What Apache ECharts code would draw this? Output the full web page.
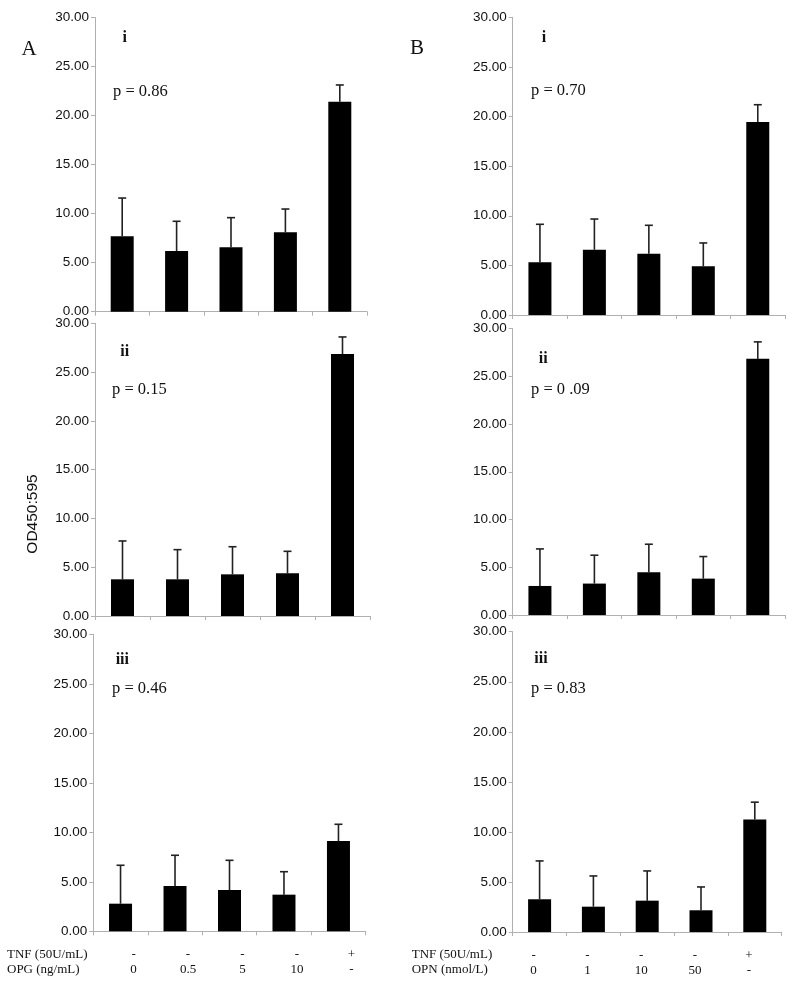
<!DOCTYPE html>
<html>
<head>
<meta charset="utf-8">
<script src="https://cdn.jsdelivr.net/npm/echarts@6/dist/echarts.min.js"></script>
<style>
html,body{margin:0;padding:0;background:#fff;}
#main{width:800px;height:986px;}
</style>
</head>
<body>
<div id="main"></div>
<script>
// ---- data ----
var categories = ['c1', 'c2', 'c3', 'c4', 'c5'];
var yTicks = [0, 5, 10, 15, 20, 25, 30];

var tnfLabels = ['-', '-', '-', '-', '+'];
var opgLabels = ['0', '0.5', '5', '10', '-'];
var opnLabels = ['0', '1', '10', '50', '-'];

var A_i_mean   = [7.69, 6.19, 6.57, 8.10, 21.41];
var A_i_sd     = [3.90, 3.03, 3.02, 2.37, 1.71];
var A_ii_mean  = [3.76, 3.76, 4.27, 4.37, 26.85];
var A_ii_sd    = [3.93, 3.04, 2.83, 2.26, 1.75];
var A_iii_mean = [2.79, 4.58, 4.17, 3.70, 9.12];
var A_iii_sd   = [3.88, 3.10, 3.00, 2.32, 1.69];

var B_i_mean   = [5.31, 6.58, 6.18, 4.91, 19.45];
var B_i_sd     = [3.83, 3.09, 2.86, 2.35, 1.74];
var B_ii_mean  = [3.04, 3.29, 4.48, 3.81, 26.82];
var B_ii_sd    = [3.88, 2.97, 2.93, 2.31, 1.78];
var B_iii_mean = [3.27, 2.53, 3.13, 2.17, 11.23];
var B_iii_sd   = [3.83, 3.07, 2.97, 2.33, 1.74];

var panels = [
  {mean: A_i_mean,   sd: A_i_sd,   grid: {left: 95,    top: 17.5,  width: 272,   height: 294.2}, bottom: false},
  {mean: A_ii_mean,  sd: A_ii_sd,  grid: {left: 95,    top: 323.3, width: 275,   height: 292.7}, bottom: false},
  {mean: A_iii_mean, sd: A_iii_sd, grid: {left: 93.3,  top: 634.3, width: 272.4, height: 297},   bottom: true, conc: opgLabels, pad: [0, 0, 0, 26]},
  {mean: B_i_mean,   sd: B_i_sd,   grid: {left: 512.7, top: 17.3,  width: 272.3, height: 297.7}, bottom: false},
  {mean: B_ii_mean,  sd: B_ii_sd,  grid: {left: 512.7, top: 328.5, width: 272.3, height: 286.5}, bottom: false},
  {mean: B_iii_mean, sd: B_iii_sd, grid: {left: 512.7, top: 631.7, width: 269,   height: 300.3}, bottom: true, conc: opnLabels, pad: [0, 12, 0, 0]}
];

var axisGray = '#b0b0b0';
var grids = [], xAxes = [], yAxes = [], series = [];

panels.forEach(function (p, i) {
  grids.push(p.grid);
  xAxes.push({
    type: 'category', gridIndex: i, data: categories,
    axisLine: {lineStyle: {color: axisGray, width: 1}},
    axisTick: {show: true, length: 4, lineStyle: {color: axisGray}},
    axisLabel: p.bottom ? {
      show: true, interval: 0, margin: 16,
      fontFamily: 'Liberation Serif', fontSize: 13, color: '#111', lineHeight: 15,
      padding: p.pad,
      formatter: function (v, idx) { return tnfLabels[idx] + '\n' + p.conc[idx]; }
    } : {show: false}
  });
  yAxes.push({
    type: 'value', gridIndex: i, min: yTicks[0], max: yTicks[yTicks.length - 1], interval: 5,
    axisLine: {show: true, lineStyle: {color: axisGray, width: 1}},
    axisTick: {show: true, length: 4, lineStyle: {color: axisGray}},
    splitLine: {show: false},
    axisLabel: {
      fontFamily: 'Liberation Sans', fontSize: 13.5, color: '#111', margin: 6,
      formatter: function (v) { return v.toFixed(2); }
    }
  });
  series.push({
    type: 'bar', xAxisIndex: i, yAxisIndex: i, data: p.mean,
    barWidth: 23, itemStyle: {color: '#000'}, silent: true, animation: false
  });
  series.push({
    type: 'custom', xAxisIndex: i, yAxisIndex: i, silent: true, animation: false,
    data: p.mean.map(function (m, k) { return [k, m, m + p.sd[k]]; }),
    renderItem: function (params, api) {
      var x = api.value(0);
      var base = api.coord([x, api.value(1)]);
      var top = api.coord([x, api.value(2)]);
      var style = {stroke: '#222', lineWidth: 1.6};
      return {
        type: 'group',
        children: [
          {type: 'line', shape: {x1: base[0], y1: base[1], x2: top[0], y2: top[1]}, style: style},
          {type: 'line', shape: {x1: top[0] - 4, y1: top[1], x2: top[0] + 4, y2: top[1]}, style: style}
        ]
      };
    }
  });
});

function txt(t, x, y, size, opts) {
  opts = opts || {};
  return {
    type: 'text', x: x, y: y, rotation: opts.rotation || 0, silent: true,
    style: {
      text: t, fontFamily: opts.sans ? 'Liberation Sans' : 'Liberation Serif', fontSize: size,
      fontWeight: opts.bold ? 'bold' : 'normal', fill: '#111',
      align: opts.align || 'left', verticalAlign: 'middle'
    }
  };
}

var graphics = [
  txt('A', 29, 49, 21, {align: 'center'}),
  txt('B', 417, 48, 21, {align: 'center'}),
  txt('i', 124.7, 38, 16, {bold: true, align: 'center'}),
  txt('i', 544, 38, 16, {bold: true, align: 'center'}),
  txt('ii', 124.7, 352, 16, {bold: true, align: 'center'}),
  txt('ii', 543.3, 359, 16, {bold: true, align: 'center'}),
  txt('iii', 122.3, 660, 16, {bold: true, align: 'center'}),
  txt('iii', 541, 659, 16, {bold: true, align: 'center'}),
  txt('p = 0.86', 113, 91.5, 16.5),
  txt('p = 0.70', 531, 90.7, 16.5),
  txt('p = 0.15', 112, 390, 16.5),
  txt('p = 0 .09', 531, 390, 16.5),
  txt('p = 0.46', 112, 689, 16.5),
  txt('p = 0.83', 531, 689, 16.5),
  txt('OD450:595', 33, 514, 15.5, {align: 'center', rotation: Math.PI / 2, sans: true}),
  txt('TNF (50U/mL)', 7, 955, 13),
  txt('OPG (ng/mL)', 7, 970, 13),
  txt('TNF (50U/mL)', 411.7, 955, 13),
  txt('OPN (nmol/L)', 411.7, 970, 13)
];

var chart = echarts.init(document.getElementById('main'), null, {renderer: 'canvas'});
chart.setOption({
  backgroundColor: '#fff',
  animation: false,
  grid: grids,
  xAxis: xAxes,
  yAxis: yAxes,
  series: series,
  graphic: graphics
});
</script>
</body>
</html>
